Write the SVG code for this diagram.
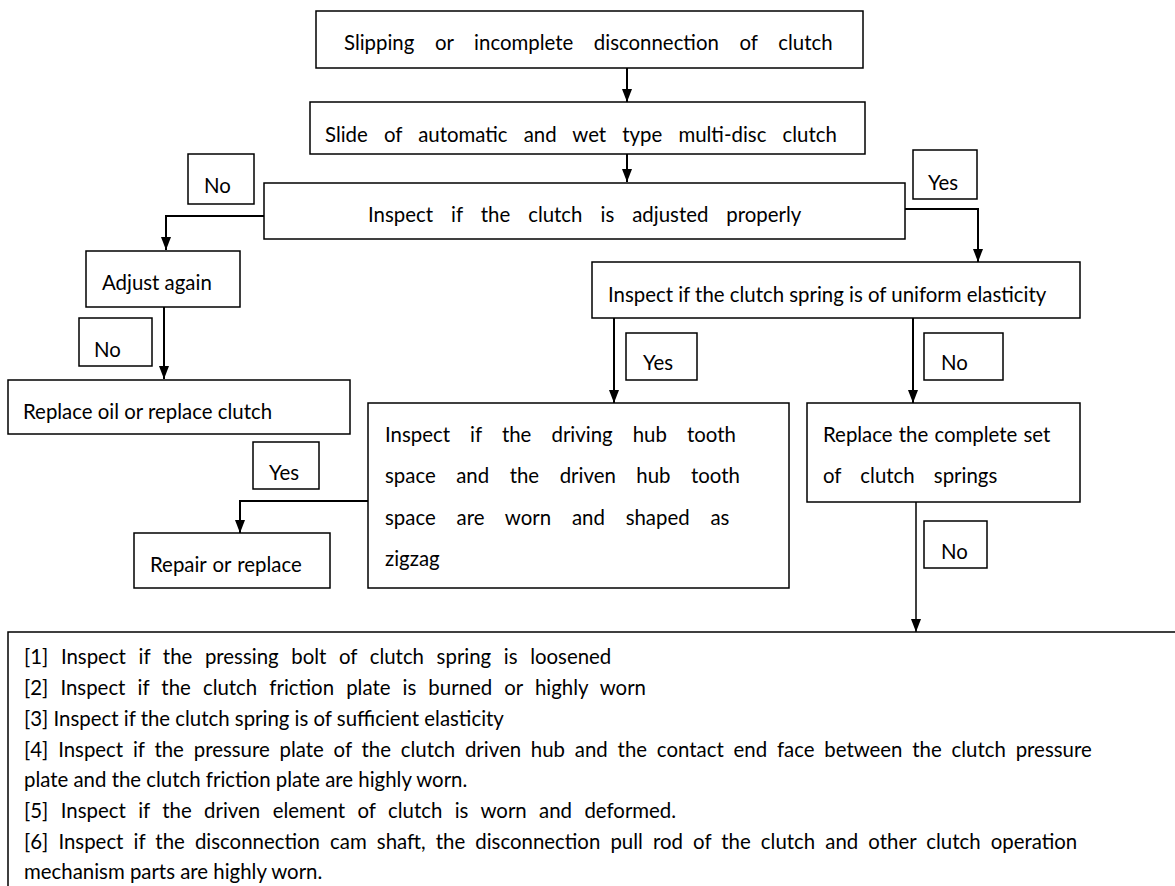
<svg xmlns="http://www.w3.org/2000/svg" width="1175" height="886" viewBox="0 0 1175 886">
<style>
.box{fill:#fff;stroke:#000;stroke-width:1.5}
.lbl{fill:#fff;stroke:#000;stroke-width:1.5}
.t{font-family:Lato,"Liberation Sans",sans-serif;font-size:20.4px;fill:#000}
.c{fill:none;stroke:#000;stroke-width:2}
.c1{fill:none;stroke:#000;stroke-width:1.5}
</style>
<defs>
<marker id="ah" markerUnits="userSpaceOnUse" markerWidth="13" markerHeight="10" refX="13" refY="5" orient="auto">
<path d="M0,0 L13,5 L0,10 z" fill="#000"/>
</marker>
</defs>
<rect width="1175" height="886" fill="#fff"/>
<g id="connectors">
<path class="c" d="M627,68 V102" marker-end="url(#ah)"/>
<path class="c" d="M627,154 V182" marker-end="url(#ah)"/>
<path class="c" d="M264,216 H166 V250" marker-end="url(#ah)"/>
<path class="c" d="M905,209 H978 V262" marker-end="url(#ah)"/>
<path class="c" d="M164,307 V379" marker-end="url(#ah)"/>
<path class="c" d="M614,318 V403" marker-end="url(#ah)"/>
<path class="c" d="M913,318 V403" marker-end="url(#ah)"/>
<path class="c" d="M368,501 H240 V533" marker-end="url(#ah)"/>
<path class="c1" d="M916,502 V632" marker-end="url(#ah)"/>
</g>
<g id="n1"><rect class="box" x="316" y="11" width="547" height="57"/><text class="t" x="344" y="50" word-spacing="15.4">Slipping or incomplete disconnection of clutch</text></g>
<g id="n2"><rect class="box" x="310" y="102" width="555" height="52"/><text class="t" x="325" y="142" word-spacing="10.9">Slide of automatic and wet type multi-disc clutch</text></g>
<g id="n3"><rect class="box" x="264" y="183" width="641" height="56"/><text class="t" x="368" y="222" word-spacing="12.8">Inspect if the clutch is adjusted properly</text></g>
<g id="l1"><rect class="lbl" x="188" y="154" width="66" height="50"/><text class="t" x="204" y="193">No</text></g>
<g id="l2"><rect class="lbl" x="913" y="150" width="64" height="49"/><text class="t" x="928" y="190">Yes</text></g>
<g id="n4"><rect class="box" x="86" y="251" width="154" height="56"/><text class="t" x="102" y="290">Adjust again</text></g>
<g id="n5"><rect class="box" x="592" y="262" width="488" height="56"/><text class="t" x="608" y="302">Inspect if the clutch spring is of uniform elasticity</text></g>
<g id="l3"><rect class="lbl" x="79" y="318" width="73" height="48"/><text class="t" x="94" y="357">No</text></g>
<g id="n6"><rect class="box" x="8" y="380" width="342" height="54"/><text class="t" x="23" y="419">Replace oil or replace clutch</text></g>
<g id="l4"><rect class="lbl" x="626" y="333" width="71" height="47"/><text class="t" x="643" y="370">Yes</text></g>
<g id="l5"><rect class="lbl" x="924" y="333" width="79" height="47"/><text class="t" x="941" y="370">No</text></g>
<g id="n7"><rect class="box" x="368" y="403" width="421" height="185"/>
<text class="t" x="385" y="442" word-spacing="14.9">Inspect if the driving hub tooth</text>
<text class="t" x="385" y="483" word-spacing="15.3">space and the driven hub tooth</text>
<text class="t" x="385" y="525" word-spacing="15.6">space are worn and shaped as</text>
<text class="t" x="385" y="566">zigzag</text></g>
<g id="n8"><rect class="box" x="807" y="403" width="273" height="99"/>
<text class="t" x="823" y="442" word-spacing="1">Replace the complete set</text>
<text class="t" x="823" y="483" word-spacing="14">of clutch springs</text></g>
<g id="l6"><rect class="lbl" x="253" y="442" width="66" height="47"/><text class="t" x="269" y="480">Yes</text></g>
<g id="n9"><rect class="box" x="134" y="533" width="196" height="55"/><text class="t" x="150" y="572" word-spacing="1">Repair or replace</text></g>
<g id="l7"><rect class="lbl" x="924" y="521" width="63" height="47"/><text class="t" x="941" y="559">No</text></g>
<g id="n10"><rect class="box" x="8" y="632" width="1180" height="270"/>
<text class="t" x="24" y="664" word-spacing="7.4">[1] Inspect if the pressing bolt of clutch spring is loosened</text>
<text class="t" x="24" y="695" word-spacing="6.9">[2] Inspect if the clutch friction plate is burned or highly worn</text>
<text class="t" x="24" y="726">[3] Inspect if the clutch spring is of sufficient elasticity</text>
<text class="t" x="24" y="757" word-spacing="4.6">[4] Inspect if the pressure plate of the clutch driven hub and the contact end face between the clutch pressure</text>
<text class="t" x="24" y="787">plate and the clutch friction plate are highly worn.</text>
<text class="t" x="24" y="818" word-spacing="7.2">[5] Inspect if the driven element of clutch is worn and deformed.</text>
<text class="t" x="24" y="849" word-spacing="4.9">[6] Inspect if the disconnection cam shaft, the disconnection pull rod of the clutch and other clutch operation</text>
<text class="t" x="24" y="879">mechanism parts are highly worn.</text></g>
</svg>
